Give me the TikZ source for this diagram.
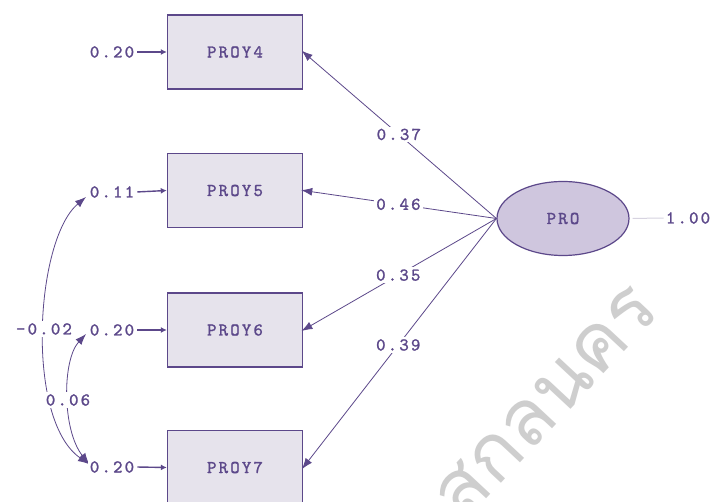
\documentclass[tikz,border=0pt]{standalone}
\usepackage{fontspec}
\newfontfamily\lis{lmmono10-regular.otf}[LetterSpace=12, FakeBold=1.3]
\newfontfamily\thaifont[Script=Thai]{Loma}
\usetikzlibrary{arrows.meta,shapes.geometric}
\definecolor{lp}{RGB}{92,72,138}
\definecolor{boxfill}{RGB}{230,227,236}
\definecolor{ellfill}{RGB}{207,198,222}
\definecolor{faint}{RGB}{215,211,224}
\definecolor{wm}{RGB}{206,206,206}
\begin{document}
\begin{tikzpicture}[x=1pt,y=-1pt,
  txt/.style={font=\lis\fontsize{18}{18}\selectfont, text=lp, inner sep=1pt},
  box/.style={draw=lp, line width=1.4pt, fill=boxfill, minimum width=135pt, minimum height=74pt, txt},
  ell/.style={ellipse, draw=lp, line width=1.2pt, fill=ellfill, minimum width=132pt, minimum height=74pt, txt},
  load/.style={draw=lp, line width=0.8pt, -{Latex[length=11pt,width=8pt]}},
  lbl/.style={txt, fill=white, inner sep=2pt},
  err/.style={draw=lp, line width=1.4pt, -{Latex[length=6pt,width=6pt]}},
  cov/.style={draw=lp, line width=0.8pt, {Latex[length=11pt,width=8pt]}-{Latex[length=11pt,width=8pt]}},
]
\useasboundingbox (0,0) rectangle (712,502);
\clip (0,0) rectangle (712,502);
\fill[white] (0,0) rectangle (712,502);

% watermark
\node[text=wm, rotate=47, font=\thaifont\fontsize{78}{78}\selectfont, inner sep=0pt] (wmark) at (546,402) {สกลนคร};

% observed variables
\node[box] (p4) at (235,52) {PROY4};
\node[box] (p5) at (235,190.5) {PROY5};
\node[box] (p6) at (235,330) {PROY6};
\node[box] (p7) at (235,467.5) {PROY7};

% latent
\node[ell] (pro) at (563,218.5) {PRO};

% loadings
\draw[load, shorten >=-2pt] (pro.west) -- node[lbl, pos=0.505] {0.37} (p4.east);
\draw[load, shorten >=-2pt] (pro.west) -- node[lbl, pos=0.507] {0.46} (p5.east);
\draw[load, shorten >=-2pt] (pro.west) -- node[lbl, pos=0.508] {0.35} (p6.east);
\draw[load, shorten >=-2pt] (pro.west) -- node[lbl, pos=0.508] {0.39} (p7.east);

% latent variance
\node[txt] (one) at (688,218) {1.00};
\draw[faint, line width=1pt, shorten <=3pt, shorten >=1pt] (pro.east) -- (one.west);

% error covariances
\coordinate (c5) at (86,197);
\coordinate (c6) at (86,334);
\coordinate (c7) at (89,464);
\draw[cov] (c5) .. controls (35,240) and (25,420) .. (c7);
\draw[cov] (c6) .. controls (62,360) and (62,430) .. (c7);
\node[lbl] (cv1) at (44,329) {-0.02};
\node[lbl] (cv2) at (68,400) {0.06};

% error variances
\node[lbl] (e4) at (112,52) {0.20};
\node[lbl] (e5) at (112,192) {0.11};
\node[lbl] (e6) at (112,330) {0.20};
\node[lbl] (e7) at (112,467) {0.20};
\draw[err, shorten <=1pt] (e4.east) -- (p4.west);
\draw[err, shorten <=1pt] (e5.east) -- (p5.west);
\draw[err, shorten <=1pt] (e6.east) -- (p6.west);
\draw[err, shorten <=1pt] (e7.east) -- (p7.west);
\end{tikzpicture}
\end{document}
